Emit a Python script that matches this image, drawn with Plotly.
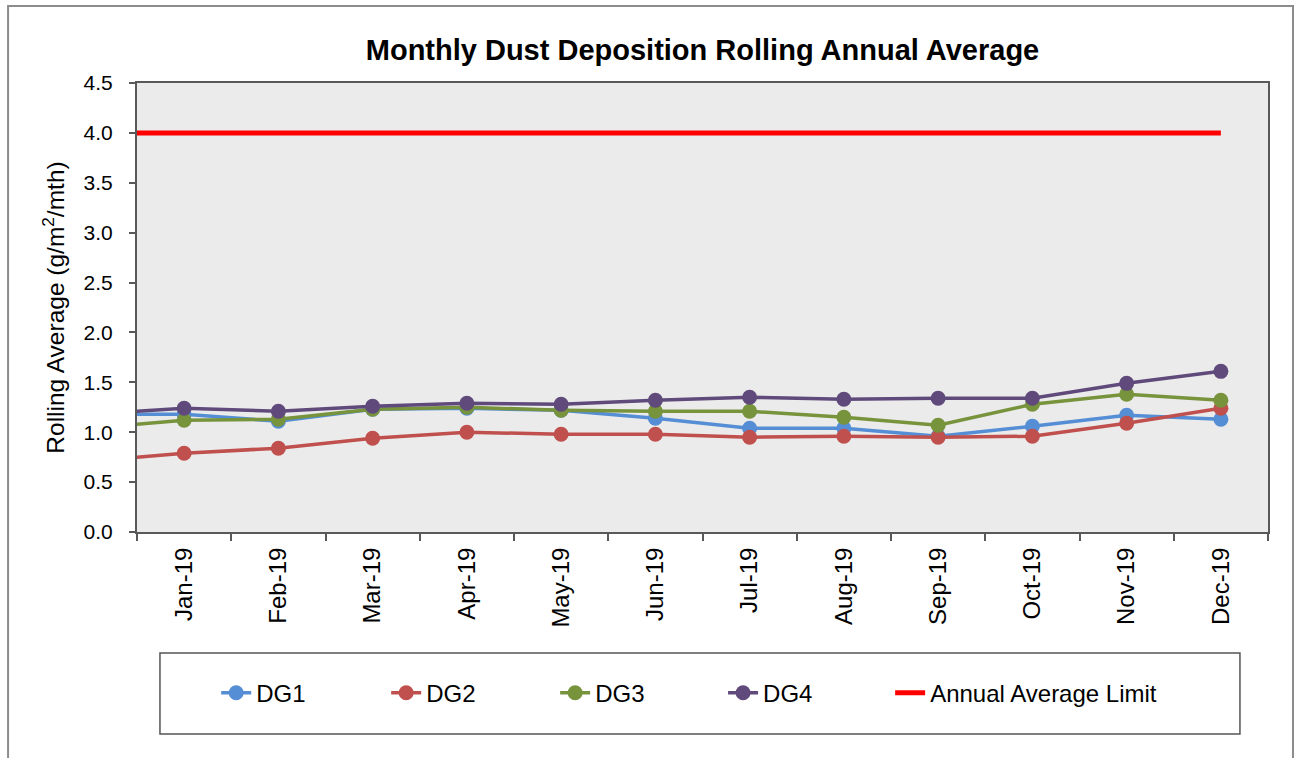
import plotly.graph_objects as go

# Data (first point Dec-18 lies left of the visible range; only its connecting segment shows)
months = ["Dec-18", "Jan-19", "Feb-19", "Mar-19", "Apr-19", "May-19", "Jun-19",
          "Jul-19", "Aug-19", "Sep-19", "Oct-19", "Nov-19", "Dec-19"]
dg1 = [1.18, 1.18, 1.11, 1.23, 1.24, 1.22, 1.14, 1.04, 1.04, 0.96, 1.06, 1.17, 1.13]
dg2 = [0.71, 0.79, 0.84, 0.94, 1.00, 0.98, 0.98, 0.95, 0.96, 0.95, 0.96, 1.09, 1.24]
dg3 = [1.04, 1.12, 1.13, 1.23, 1.25, 1.22, 1.21, 1.21, 1.15, 1.07, 1.28, 1.38, 1.32]
dg4 = [1.18, 1.24, 1.21, 1.26, 1.29, 1.28, 1.32, 1.35, 1.33, 1.34, 1.34, 1.49, 1.61]
limit = [4.0] * 13
y_ticks = [0.0, 0.5, 1.0, 1.5, 2.0, 2.5, 3.0, 3.5, 4.0, 4.5]

xpos = [i - 1 for i in range(len(months))]
visible_idx = [i - 1 for i in range(1, len(months))]
visible_labels = months[1:]

FONT = "Liberation Sans, Arial, sans-serif"

fig = go.Figure()
series = [("DG1", dg1, "#558ED5"), ("DG2", dg2, "#C0504D"),
          ("DG3", dg3, "#77933C"), ("DG4", dg4, "#604A7B")]
legend_ids = ["legend", "legend2", "legend3", "legend4", "legend5"]
for k, (name, vals, col) in enumerate(series):
    fig.add_trace(go.Scatter(
        x=xpos, y=vals, name=name, mode="lines+markers",
        line=dict(color=col, width=3.5),
        marker=dict(color=col, size=15),
        cliponaxis=True, legend=legend_ids[k]))
fig.add_trace(go.Scatter(
    x=xpos, y=limit, name="Annual Average Limit", mode="lines",
    line=dict(color="#FF0000", width=5), cliponaxis=True, legend=legend_ids[4]))

# invisible trace on secondary x-axis to carry boundary tick marks
fig.add_trace(go.Scatter(x=[visible_idx[0]], y=[0], xaxis="x2", showlegend=False,
                         mode="markers", marker=dict(opacity=0), hoverinfo="skip"))

n = len(visible_idx)
legend_x = [0.0700, 0.2203, 0.3697, 0.5182, 0.6659]
legend_common = dict(orientation="h", y=-0.359, yanchor="middle", xanchor="left",
                     bgcolor="rgba(0,0,0,0)", borderwidth=0,
                     font=dict(family=FONT, size=24, color="black"))
legend_layout = {lid: dict(x=lx, **legend_common) for lid, lx in zip(legend_ids, legend_x)}

fig.update_layout(
    width=1300, height=758,
    margin=dict(l=137, r=32, t=83, b=226),
    paper_bgcolor="white",
    plot_bgcolor="#EBEBEB",
    title=dict(text="<b>Monthly Dust Deposition Rolling Annual Average</b>",
               x=0.5, xref="paper", xanchor="center", y=0.934, yanchor="middle",
               font=dict(family=FONT, size=29, color="black")),
    xaxis=dict(range=[-0.5, n - 0.5], tickmode="array", tickvals=visible_idx,
               ticktext=visible_labels, tickangle=-90, ticks="", automargin=False,
               ticklabelstandoff=4,
               tickfont=dict(family=FONT, size=24, color="black"),
               showgrid=False, zeroline=False,
               showline=True, linecolor="#595959", linewidth=2, mirror=True),
    xaxis2=dict(overlaying="x", matches="x", side="bottom", automargin=False,
                tickmode="array", tickvals=[v - 0.5 for v in visible_idx] + [n - 0.5],
                showticklabels=False, ticks="outside", ticklen=8, tickwidth=1.5,
                tickcolor="#595959", showgrid=False, zeroline=False, showline=False),
    yaxis=dict(range=[0, 4.5], tickmode="array", tickvals=y_ticks,
               ticktext=[f"{v:.1f}" for v in y_ticks], automargin=False,
               ticks="outside", ticklen=6, tickwidth=1.5, tickcolor="#595959",
               ticklabelstandoff=12,
               tickfont=dict(family=FONT, size=21, color="black"),
               showgrid=False, zeroline=False,
               showline=True, linecolor="#595959", linewidth=2, mirror=True,
               title=dict(text="Rolling Average (g/m<sup>2</sup>/mth)", standoff=12,
                          font=dict(family=FONT, size=24.5, color="black"))),
    shapes=[
        dict(type="rect", xref="paper", yref="paper", x0=0.0203, x1=0.9752,
             y0=-0.45, y1=-0.2695, line=dict(color="#555555", width=1.5)),
        dict(type="rect", xref="paper", yref="paper", x0=-0.114, x1=1.0221,
             y0=-0.6, y1=1.1715, line=dict(color="#8C8C8C", width=2)),
    ],
    showlegend=True,
    **legend_layout,
)

fig.write_html("out.html",
               config={"displayModeBar": False},
               post_script="document.body.style.margin='0';document.body.style.overflow='hidden';")
